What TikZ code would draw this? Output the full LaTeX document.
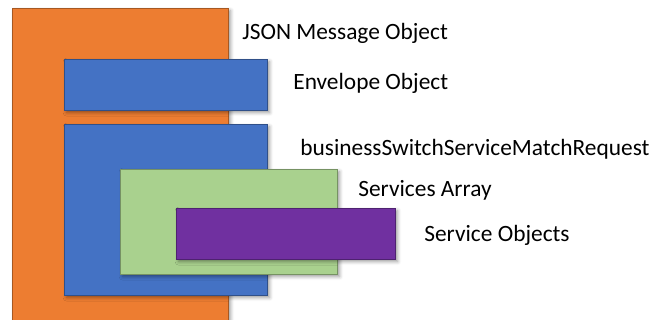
\documentclass[tikz,border=0pt]{standalone}
\usepackage{fontspec}
\setmainfont{Carlito}
\definecolor{jsonorange}{RGB}{237, 125, 49}
\definecolor{objblue}{RGB}{68, 114, 196}
\definecolor{arraygreen}{RGB}{169, 209, 142}
\definecolor{itempurple}{RGB}{112, 48, 160}
\usetikzlibrary{positioning, shadows.blur}

\begin{document}
\begin{tikzpicture}[
        x=0.02cm, y=-0.02cm,
        layer/.style={rectangle, draw=#1!70!black, fill=#1, line width=0.5pt,
                      inner sep=0pt, blur shadow={shadow xshift=1.5pt,
                      shadow yshift=-1.5pt, shadow blur radius=2pt, shadow opacity=40}},
        caption/.style={anchor=base west, inner sep=0pt, font=\fontsize{13.3}{15}\selectfont}
    ]
        \useasboundingbox (0,0) rectangle (650,320);

        % Outer message
        \node[layer=jsonorange, minimum width=4.32cm, minimum height=6.24cm] (json) at (120,164) {};
        \node[caption] (jsonlbl) at (242,40) {JSON Message Object};

        % Envelope
        \node[layer=objblue, minimum width=4.06cm, minimum height=1.02cm] (env) at (165.5,84.5) {};
        \node[caption] (envlbl) at (293,90) {Envelope Object};

        % Request body
        \node[layer=objblue, minimum width=4.06cm, minimum height=3.42cm] (req) at (165.5,209.5) {};
        \node[caption] (reqlbl) at (300,156) {businessSwitchServiceMatchRequest};

        % Services array
        \node[layer=arraygreen, minimum width=4.34cm, minimum height=2.1cm] (arr) at (228.5,221.5) {};
        \node[caption] (arrlbl) at (358,197) {Services Array};

        % Service objects
        \node[layer=itempurple, minimum width=4.38cm, minimum height=1.02cm] (svc) at (285.5,233.5) {};
        \node[caption] (svclbl) at (424,242) {Service Objects};
    \end{tikzpicture}
\end{document}
